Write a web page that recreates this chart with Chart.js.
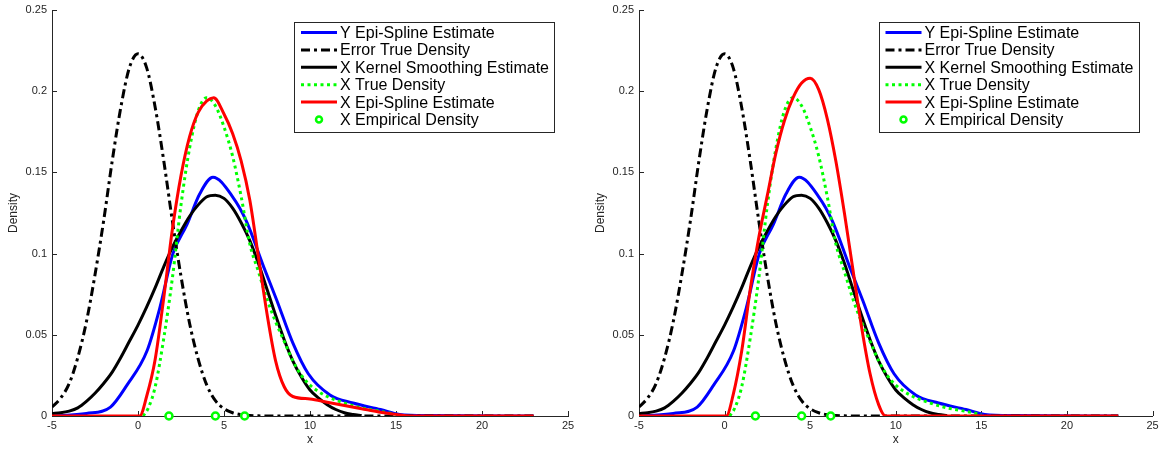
<!DOCTYPE html>
<html>
<head>
<meta charset="utf-8">
<script src="https://cdn.jsdelivr.net/npm/chart.js@4.4.1/dist/chart.umd.min.js"></script>
<style>
  html, body { margin: 0; padding: 0; background: #fff; }
  #wrap { position: relative; width: 1159px; height: 450px; overflow: hidden; }
  canvas { position: absolute; top: 0; }
</style>
</head>
<body>
<div id="wrap">
  <canvas id="left" width="580" height="450" style="left:0"></canvas>
  <canvas id="right" width="579" height="450" style="left:580px"></canvas>
</div>
<script>
// ticks
const xTickValues = [-5, 0, 5, 10, 15, 20, 25];
const xTickLabels = ["-5", "0", "5", "10", "15", "20", "25"];
const yTickValues = [0, 0.05, 0.1, 0.15, 0.2, 0.25];
const yTickLabels = ["0", "0.05", "0.1", "0.15", "0.2", "0.25"];

const legendLabels = [
  "Y Epi-Spline Estimate",
  "Error True Density",
  "X Kernel Smoothing Estimate",
  "X True Density",
  "X Epi-Spline Estimate",
  "X Empirical Density",
];

// Y epi-spline estimate (same in both panels)
const yEpiX = [-5, -3, -1.6, -0.64, 0.52, 1.28, 2.03, 2.85, 3.6, 4.36, 5.5, 6.3, 7.3, 8.08, 9.0, 9.9, 11.16, 12.5, 14.1, 15.2, 17, 23];
const yEpiY = [0, 0.0015, 0.0055, 0.019, 0.040, 0.067, 0.100, 0.118, 0.137, 0.147, 0.135, 0.120, 0.092, 0.071, 0.045, 0.026, 0.013, 0.008, 0.004, 0.001, 0.0003, 0];

// error true density
const errX = [-5, -4.5, -4, -3.5, -3, -2.5, -2, -1.5, -1, -0.5, 0, 0.5, 1, 1.5, 2, 2.5, 3, 3.5, 4, 4.5, 5, 5.5, 6, 6.5, 7, 8, 10, 12, 15, 23];
const errY = [0.0055, 0.011, 0.02, 0.036, 0.058, 0.087, 0.12, 0.157, 0.19, 0.2145, 0.223, 0.2145, 0.19, 0.157, 0.12, 0.086, 0.057, 0.035, 0.019, 0.0094, 0.0045, 0.002, 0.0008, 0.0003, 0.0001, 0, 0, 0, 0, 0];

// X kernel smoothing estimate
const kernX = [-5, -4.5, -4, -3.5, -3, -2.5, -2, -1.5, -1, -0.5, 0, 0.5, 1, 1.5, 2, 2.5, 3, 3.5, 4, 4.5, 5, 5.5, 6, 6.5, 7, 7.5, 8, 8.5, 9, 9.5, 10, 10.5, 11, 11.5, 12, 12.5, 13];
const kernY = [0.0015, 0.002, 0.003, 0.005, 0.009, 0.014, 0.02, 0.027, 0.036, 0.046, 0.056, 0.067, 0.079, 0.092, 0.104, 0.114, 0.123, 0.130, 0.135, 0.136, 0.134, 0.128, 0.119, 0.108, 0.094, 0.078, 0.062, 0.047, 0.034, 0.024, 0.016, 0.011, 0.007, 0.004, 0.002, 0.001, 0.0003];

// X true density
const trueX = [0.3, 0.6, 1, 1.5, 2, 2.5, 3, 3.5, 4, 4.5, 5, 5.5, 6, 6.5, 7, 7.5, 8, 8.5, 9, 9.5, 10, 10.5, 11, 12, 13, 14, 15];
const trueY = [0, 0.005, 0.018, 0.048, 0.085, 0.13, 0.165, 0.188, 0.196, 0.191, 0.178, 0.160, 0.135, 0.106, 0.089, 0.072, 0.058, 0.046, 0.034, 0.025, 0.019, 0.015, 0.012, 0.008, 0.005, 0.003, 0.001];

// X epi-spline estimate, left panel
const epiLeftX = [-5, 0, 0.1, 0.5, 1, 1.5, 2, 2.5, 3, 3.5, 4, 4.4, 5, 5.5, 6, 6.5, 7, 7.5, 8, 8.5, 9, 10, 11, 12, 13, 14, 15, 15.8, 23];
const epiLeftY = [0, 0, 0, 0.012, 0.035, 0.073, 0.115, 0.148, 0.172, 0.187, 0.194, 0.196, 0.186, 0.174, 0.157, 0.133, 0.098, 0.063, 0.034, 0.018, 0.012, 0.0105, 0.0085, 0.0065, 0.0045, 0.0025, 0.001, 0, 0];

// X epi-spline estimate, right panel
const epiRightX = [-5, 0, 0.1, 0.5, 1, 1.5, 2, 2.5, 3, 3.5, 4, 4.5, 5, 5.5, 6, 6.5, 7, 7.5, 8, 8.5, 9, 9.4, 23];
const epiRightY = [0, 0, 0, 0.013, 0.04, 0.078, 0.11, 0.136, 0.162, 0.182, 0.196, 0.205, 0.208, 0.201, 0.183, 0.157, 0.125, 0.09, 0.055, 0.026, 0.007, 0, 0];

// X empirical density
const empX = [1.8, 4.5, 6.2];
const empY = [0, 0, 0];

const axisColor = "#262626";
const fontFamily = "'Liberation Sans', Arial, Helvetica, sans-serif";

const pts = (xs, ys) => xs.map((x, i) => ({ x: x, y: ys[i] }));

const inwardTicks = {
  id: "inwardTicks",
  beforeDatasetsDraw(chart) {
    const { ctx, chartArea, scales } = chart;
    ctx.save();
    ctx.strokeStyle = axisColor;
    ctx.lineWidth = 1;
    ctx.beginPath();
    xTickValues.forEach((v) => {
      const px = Math.round(scales.x.getPixelForValue(v)) + 0.5;
      ctx.moveTo(px, chartArea.bottom);
      ctx.lineTo(px, chartArea.bottom - 5);
    });
    yTickValues.forEach((v) => {
      const py = Math.round(scales.y.getPixelForValue(v)) + 0.5;
      ctx.moveTo(chartArea.left, py);
      ctx.lineTo(chartArea.left + 5, py);
    });
    ctx.stroke();
    ctx.restore();
  },
};

const boxLegend = {
  id: "boxLegend",
  afterDraw(chart) {
    const { ctx, chartArea } = chart;
    const w = 260, h = 110;
    const left = chartArea.right - 14 - w;
    const top = chartArea.top + 12;
    ctx.save();
    ctx.fillStyle = "#fff";
    ctx.fillRect(left, top, w, h);
    ctx.strokeStyle = axisColor;
    ctx.lineWidth = 1;
    ctx.strokeRect(Math.round(left) + 0.5, Math.round(top) + 0.5, w, h);
    ctx.font = "16px " + fontFamily;
    ctx.textBaseline = "middle";
    ctx.fillStyle = "#000";
    // legend order follows the plotting order, not the drawing order
    const byLabel = {};
    chart.data.datasets.forEach((ds) => (byLabel[ds.label] = ds));
    legendLabels.forEach((label, i) => {
      const ds = byLabel[label];
      const cy = top + 10.5 + i * 17.4;
      if (ds.showLine === false) {
        ctx.beginPath();
        ctx.arc(left + 25, cy, 3, 0, Math.PI * 2);
        ctx.fillStyle = "#fff";
        ctx.fill();
        ctx.strokeStyle = ds.borderColor;
        ctx.lineWidth = 2.5;
        ctx.stroke();
      } else {
        ctx.beginPath();
        ctx.setLineDash(ds.borderDash || []);
        ctx.strokeStyle = ds.borderColor;
        ctx.lineWidth = ds.borderWidth;
        ctx.moveTo(left + 7, cy);
        ctx.lineTo(left + 43, cy);
        ctx.stroke();
        ctx.setLineDash([]);
      }
      ctx.fillStyle = "#000";
      ctx.fillText(label, left + 46, cy + 1);
    });
    ctx.restore();
  },
};

function makeChart(canvasId, epiX, epiY, yAxisWidth, yTitlePad, rightPad) {
  const lineBase = {
    showLine: true,
    pointRadius: 0,
    borderWidth: 3,
    fill: false,
    cubicInterpolationMode: "monotone",
  };
  return new Chart(document.getElementById(canvasId), {
    type: "scatter",
    data: {
      datasets: [
        { ...lineBase, label: legendLabels[0], data: pts(yEpiX, yEpiY), borderColor: "#0000ff", order: 6 },
        { ...lineBase, label: legendLabels[1], data: pts(errX, errY), borderColor: "#000000", borderDash: [9, 4, 3, 4], order: 5 },
        { ...lineBase, label: legendLabels[2], data: pts(kernX, kernY), borderColor: "#000000", order: 4 },
        { ...lineBase, label: legendLabels[3], data: pts(trueX, trueY), borderColor: "#00ff00", borderDash: [3, 3.5], order: 3 },
        { ...lineBase, label: legendLabels[4], data: pts(epiX, epiY), borderColor: "#ff0000", order: 2 },
        {
          label: legendLabels[5],
          data: pts(empX, empY),
          showLine: false,
          pointRadius: 3.5,
          borderWidth: 2.5,
          borderColor: "#00ff00",
          backgroundColor: "#ffffff",
          order: 1,
          clip: false,
        },
      ],
    },
    options: {
      responsive: false,
      animation: false,
      devicePixelRatio: 1,
      layout: { padding: { top: 10, right: rightPad, left: 0, bottom: 0 } },
      plugins: { legend: { display: false }, tooltip: { enabled: false } },
      scales: {
        x: {
          type: "linear",
          min: -5,
          max: 25,
          afterBuildTicks: (scale) => {
            scale.ticks = xTickValues.map((v) => ({ value: v }));
          },
          afterFit: (scale) => {
            scale.height = 34;
            scale.paddingLeft = 0;
            scale.paddingRight = 0;
          },
          ticks: {
            callback: (value, index) => xTickLabels[index],
            color: axisColor,
            font: { family: fontFamily, size: 11 },
            padding: 3,
            maxRotation: 0,
            autoSkip: false,
          },
          grid: { display: false, drawTicks: false },
          border: { display: true, color: axisColor, width: 1 },
          title: {
            display: true,
            text: "x",
            color: axisColor,
            font: { family: fontFamily, size: 12 },
            padding: { top: 0, bottom: 3 },
          },
        },
        y: {
          type: "linear",
          min: 0,
          max: 0.25,
          afterBuildTicks: (scale) => {
            scale.ticks = yTickValues.map((v) => ({ value: v }));
          },
          afterFit: (scale) => {
            scale.width = yAxisWidth;
            scale.paddingTop = 0;
            scale.paddingBottom = 0;
          },
          ticks: {
            callback: (value, index) => yTickLabels[index],
            color: axisColor,
            font: { family: fontFamily, size: 11 },
            padding: 5,
            autoSkip: false,
          },
          grid: { display: false, drawTicks: false },
          border: { display: true, color: axisColor, width: 1 },
          title: {
            display: true,
            text: "Density",
            color: axisColor,
            font: { family: fontFamily, size: 12 },
            padding: { top: yTitlePad, bottom: 0 },
          },
        },
      },
    },
    plugins: [inwardTicks, boxLegend],
  });
}

makeChart("left", epiLeftX, epiLeftY, 52, 6, 12);
makeChart("right", epiRightX, epiRightY, 59, 13.5, 4);
</script>
</body>
</html>
